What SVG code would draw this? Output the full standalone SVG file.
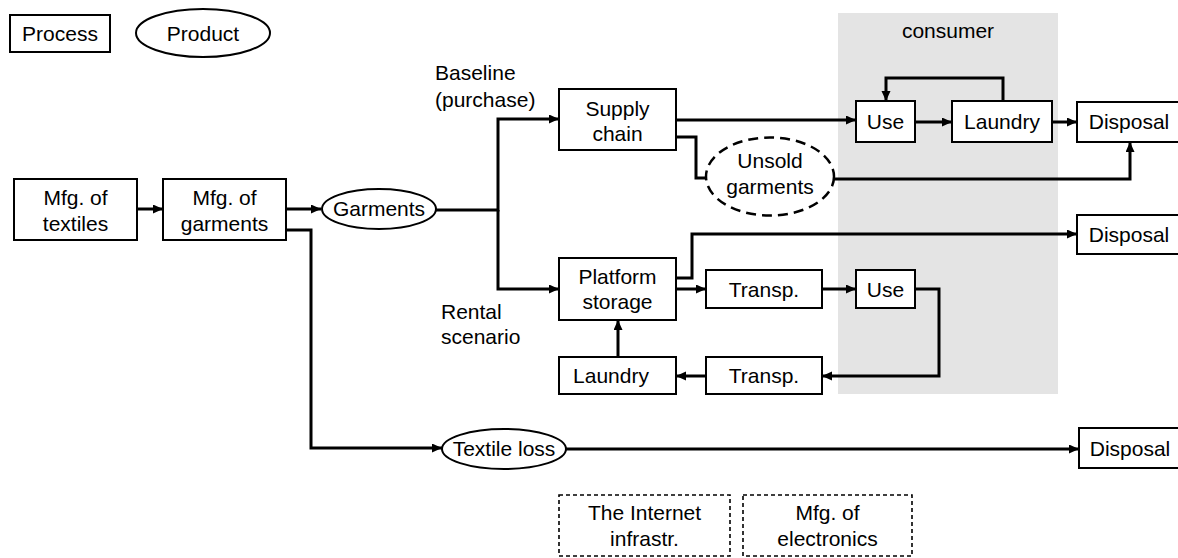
<svg xmlns="http://www.w3.org/2000/svg" width="1178" height="558" viewBox="0 0 1178 558">
<defs>
<style>
text{font-family:"Liberation Sans",Arial,sans-serif;font-size:21px;fill:#000}
.m{text-anchor:middle}
.box{fill:#fff;stroke:#000;stroke-width:2}
.dash{fill:#fff;stroke:#000;stroke-width:1.6;stroke-dasharray:4 3}
.edash{fill:#fff;stroke:#000;stroke-width:2.5;stroke-dasharray:10 6}
.c{fill:none;stroke:#000;stroke-width:3;stroke-linejoin:miter}
.a{marker-end:url(#arr)}
</style>
<marker id="arr" markerUnits="userSpaceOnUse" markerWidth="11" markerHeight="10" refX="10" refY="4.5" orient="auto">
<path d="M0,0 L10,4.5 L0,9 z" fill="#000"/>
</marker>
</defs>
<rect width="1178" height="558" fill="#fff"/>
<g id="consumer">
<rect x="838" y="13" width="220" height="381" fill="#e4e4e4"/>
<text class="m" x="948" y="38">consumer</text>
</g>
<g id="labels">
<text x="435" y="80">Baseline</text>
<text x="435" y="107">(purchase)</text>
<text x="441" y="319">Rental</text>
<text x="441" y="344">scenario</text>
</g>
<g id="connectors">
<path class="c a" d="M137,209 H163"/>
<path class="c a" d="M286,209 H321"/>
<path class="c a" d="M286,230 H311 V448 H442"/>
<path class="c a" d="M435,210 H498 V119 H559"/>
<path class="c a" d="M498,210 V289 H559"/>
<path class="c a" d="M676,120 H856"/>
<path class="c" d="M676,137 H696 V178 H707"/>
<path class="c a" d="M834,179 H1130 V142"/>
<path class="c a" d="M915,122 H952"/>
<path class="c a" d="M1052,122 H1077"/>
<path class="c a" d="M1003,101 V78 H886 V101"/>
<path class="c a" d="M676,278 H692 V234 H1077"/>
<path class="c a" d="M676,289 H706"/>
<path class="c a" d="M822,289 H856"/>
<path class="c a" d="M915,289 H939 V376 H822"/>
<path class="c a" d="M706,376 H676"/>
<path class="c a" d="M618,357 V320"/>
<path class="c a" d="M566,449 H1079"/>
</g>
<g id="legend-process">
<rect class="box" x="10" y="15" width="100" height="37"/>
<text class="m" x="60" y="41">Process</text>
</g>
<g id="legend-product">
<ellipse class="box" cx="203" cy="33" rx="67" ry="24"/>
<text class="m" x="203" y="41">Product</text>
</g>
<g id="mfg-textiles">
<rect class="box" x="14" y="179" width="123" height="61"/>
<text class="m" x="75.5" y="205">Mfg. of</text>
<text class="m" x="75.5" y="231">textiles</text>
</g>
<g id="mfg-garments">
<rect class="box" x="163" y="179" width="123" height="61"/>
<text class="m" x="224.5" y="205">Mfg. of</text>
<text class="m" x="224.5" y="231">garments</text>
</g>
<g id="garments">
<ellipse class="box" cx="379" cy="209" rx="57" ry="20"/>
<text class="m" x="379" y="216">Garments</text>
</g>
<g id="supply-chain">
<rect class="box" x="559" y="89" width="117" height="61"/>
<text class="m" x="617.5" y="116">Supply</text>
<text class="m" x="617.5" y="141">chain</text>
</g>
<g id="unsold">
<ellipse class="edash" cx="770" cy="176.5" rx="64" ry="39"/>
<text class="m" x="770" y="168">Unsold</text>
<text class="m" x="770" y="194">garments</text>
</g>
<g id="use1">
<rect class="box" x="856" y="101" width="59" height="41"/>
<text class="m" x="885.5" y="129">Use</text>
</g>
<g id="laundry1">
<rect class="box" x="952" y="101" width="100" height="41"/>
<text class="m" x="1002" y="129">Laundry</text>
</g>
<g id="disposal1">
<rect class="box" x="1077" y="102" width="104" height="40"/>
<text class="m" x="1129" y="129">Disposal</text>
</g>
<g id="disposal2">
<rect class="box" x="1077" y="215" width="104" height="39"/>
<text class="m" x="1129" y="242">Disposal</text>
</g>
<g id="platform">
<rect class="box" x="559" y="258" width="117" height="62"/>
<text class="m" x="617.5" y="284">Platform</text>
<text class="m" x="617.5" y="309">storage</text>
</g>
<g id="transp1">
<rect class="box" x="706" y="270" width="116" height="38"/>
<text class="m" x="764" y="297">Transp.</text>
</g>
<g id="use2">
<rect class="box" x="856" y="270" width="59" height="38"/>
<text class="m" x="885.5" y="297">Use</text>
</g>
<g id="transp2">
<rect class="box" x="706" y="357" width="116" height="37"/>
<text class="m" x="764" y="383">Transp.</text>
</g>
<g id="laundry2">
<rect class="box" x="559" y="357" width="117" height="37"/>
<text class="m" x="611" y="383">Laundry</text>
</g>
<g id="textile-loss">
<ellipse class="box" cx="504" cy="449" rx="62" ry="20"/>
<text class="m" x="504" y="456">Textile loss</text>
</g>
<g id="disposal3">
<rect class="box" x="1079" y="428" width="102" height="40"/>
<text class="m" x="1130" y="456">Disposal</text>
</g>
<g id="internet">
<rect class="dash" x="559" y="495" width="171" height="61"/>
<text class="m" x="644.5" y="520">The Internet</text>
<text class="m" x="644.5" y="546">infrastr.</text>
</g>
<g id="electronics">
<rect class="dash" x="743" y="495" width="169" height="61"/>
<text class="m" x="827.5" y="520">Mfg. of</text>
<text class="m" x="827.5" y="546">electronics</text>
</g>
</svg>
